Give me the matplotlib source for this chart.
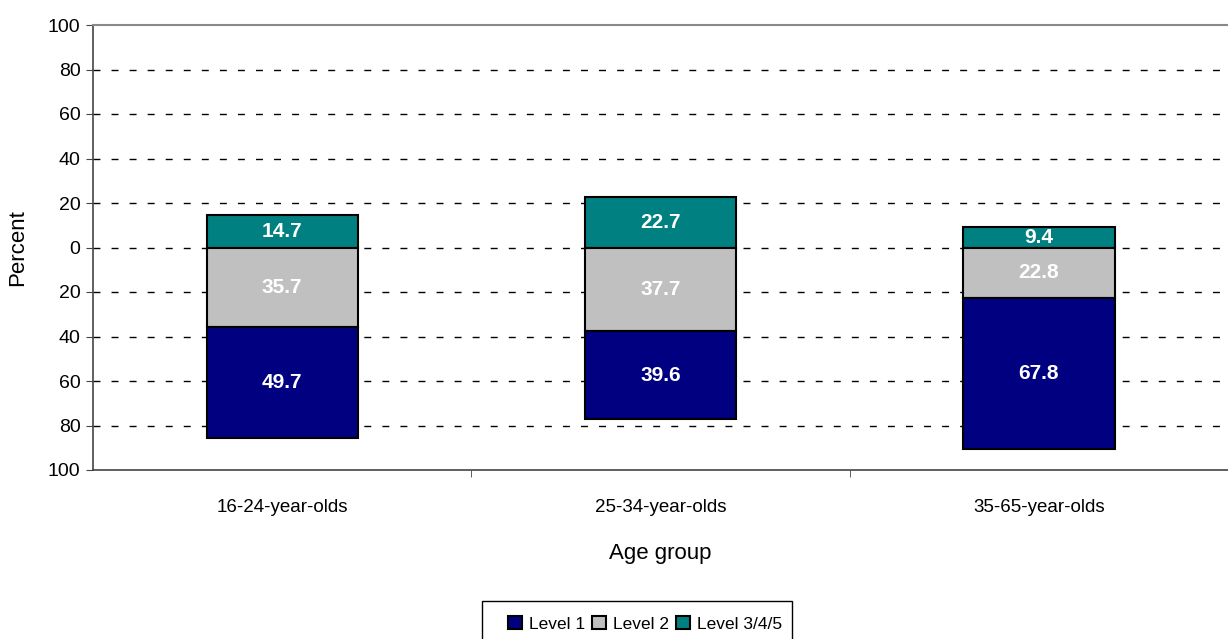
import matplotlib
matplotlib.use("Agg")
import matplotlib.pyplot as plt
from matplotlib.patches import Rectangle
import numpy as np

groups = ["16-24-year-olds", "25-34-year-olds", "35-65-year-olds"]
level1 = [49.7, 39.6, 67.8]
level2 = [35.7, 37.7, 22.8]
level345 = [14.7, 22.7, 9.4]

plt.rcParams['font.family'] = ['Liberation Sans', 'DejaVu Sans']

fig = plt.figure(figsize=(12.28, 6.39), dpi=100)
ax = fig.add_axes([93/1228, 1-470/639, 1-93/1228, (470-25)/639])

x = np.arange(len(groups))
w = 0.4
l1 = np.array(level1)
l2 = np.array(level2)
l3 = np.array(level345)

b3 = ax.bar(x, l3, w, bottom=0, color="#008080", edgecolor="black", lw=1.5, label="Level 3/4/5", zorder=3)
b2 = ax.bar(x, -l2, w, bottom=0, color="#C0C0C0", edgecolor="black", lw=1.5, label="Level 2", zorder=3)
b1 = ax.bar(x, -l1, w, bottom=-l2, color="#000080", edgecolor="black", lw=1.5, label="Level 1", zorder=3)

# value labels in the middle of each segment
for i in range(len(groups)):
    ax.text(x[i], l3[i]/2, f"{l3[i]:.1f}", ha="center", va="center", color="white", fontsize=15, fontweight="bold", zorder=4)
    ax.text(x[i], -l2[i]/2, f"{l2[i]:.1f}", ha="center", va="center", color="white", fontsize=15, fontweight="bold", zorder=4)
    ax.text(x[i], -l2[i]-l1[i]/2, f"{l1[i]:.1f}", ha="center", va="center", color="white", fontsize=15, fontweight="bold", zorder=4)

ax.set_xlim(-0.5, 2.5)
ax.set_ylim(-100, 100)
yt = np.arange(-100, 101, 20)
ax.set_yticks(yt)
ax.set_yticklabels([str(abs(v)) for v in yt], fontsize=14)
ax.set_xticks(x)
ax.set_xticklabels(groups, fontsize=13.5)
ax.tick_params(axis="x", length=0, pad=21)
ax.set_xticks([0.5, 1.5], minor=True)
ax.tick_params(axis="x", which="minor", length=5, color="#444444")
ax.tick_params(axis="y", length=5, color="#444444", pad=4)
for v in yt[1:-1]:
    ax.axhline(v, color="black", lw=1.0, ls=(0, (5, 8)), zorder=1)

ax.spines["right"].set_visible(False)
ax.spines["top"].set_color("#888888")
ax.spines["top"].set_linewidth(1.5)
ax.spines["left"].set_color("#444444")
ax.spines["bottom"].set_color("#444444")
ax.spines["left"].set_linewidth(1.2)
ax.spines["bottom"].set_linewidth(1.2)

ax.set_ylabel("Percent", fontsize=16, labelpad=14)
ax.set_xlabel("Age group", fontsize=16, labelpad=19)

# legend box (runs off the bottom edge, as in the original)
fig.patches.append(Rectangle((482/1228, -0.02), (792-482)/1228, 0.02 + 1-601/639,
                             transform=fig.transFigure, fill=False,
                             edgecolor="black", lw=1.0))
leg = fig.legend(handles=[b1, b2, b3], loc="center left",
                 bbox_to_anchor=(508/1228, 1-624/639), ncol=3, fontsize=12.5,
                 frameon=False,
                 handlelength=0.8, handleheight=0.8, handletextpad=0.4,
                 columnspacing=0.4, borderpad=0.0, borderaxespad=0)

fig.savefig("out.png", dpi=100)
